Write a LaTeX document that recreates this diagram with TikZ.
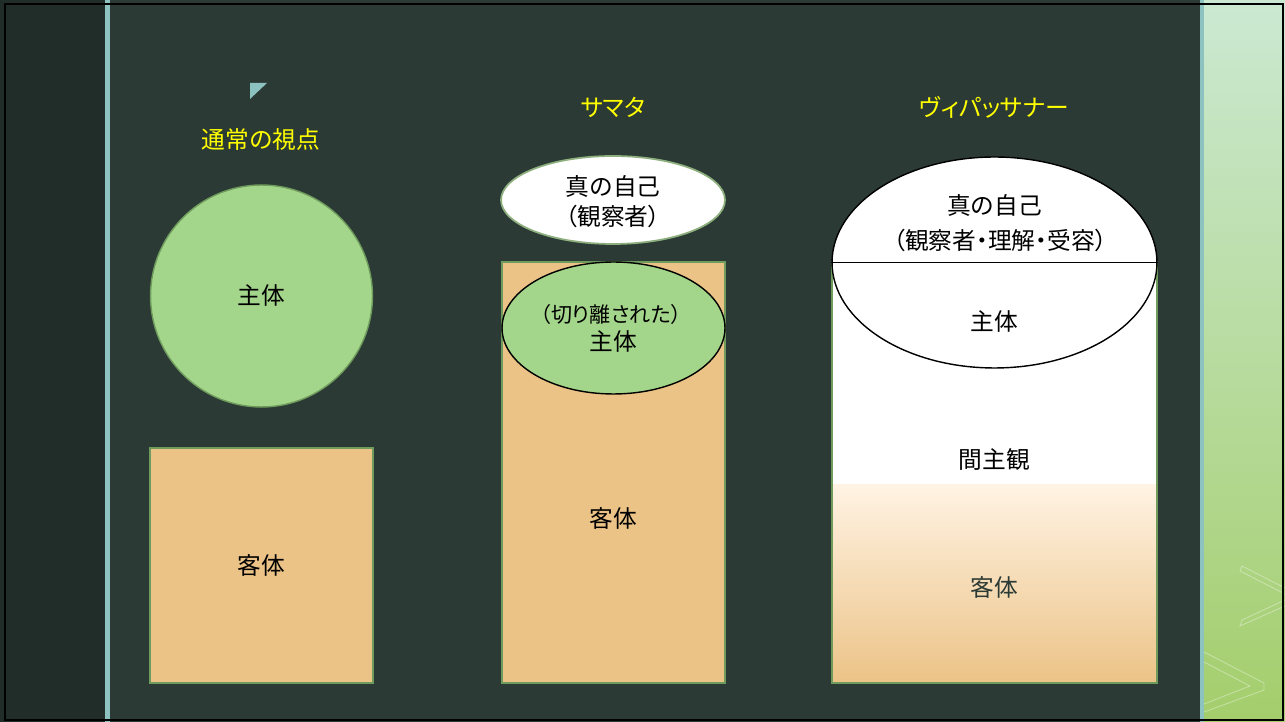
\documentclass[tikz,border=0pt]{standalone}
\usepackage{fontspec}
\setmainfont{Noto Sans CJK JP}
\newfontfamily\paltfont[RawFeature=+palt]{Noto Sans CJK JP}
\usetikzlibrary{shapes.geometric}
\definecolor{darkstrip}{HTML}{212D28}
\definecolor{bgmain}{HTML}{2C3A35}
\definecolor{tealbar}{HTML}{8CC3C0}
\definecolor{greenfill}{HTML}{A3D68B}
\definecolor{greenline}{HTML}{6F9B5C}
\definecolor{orangefill}{HTML}{ECC387}
\definecolor{titleyellow}{HTML}{FFFF00}
\definecolor{striptop}{HTML}{CBE9D2}
\definecolor{stripbot}{HTML}{A4CE6C}
\definecolor{peachtop}{HTML}{FFF3E3}
\tikzset{
  title/.style={text=titleyellow, font=\paltfont\fontsize{13.5}{16}\selectfont},
  lbl/.style={text=black, font=\fontsize{13.5}{16}\selectfont, inner sep=0pt},
  smalllbl/.style={text=black, font=\paltfont\fontsize{12}{14}\selectfont, inner sep=0pt},
  greenbox/.style={draw=greenline, line width=0.8pt, fill=orangefill, inner sep=0pt},
}
\begin{document}
\begin{tikzpicture}[x=0.02cm,y=-0.02cm]
\useasboundingbox (0,0) rectangle (1285,722);
% background
\fill[bgmain] (0,0) rectangle (1285,722);
\fill[darkstrip] (0,0) rectangle (105,722);
\fill[tealbar] (105,0) rectangle (110,722);
\fill[tealbar] (1200,0) rectangle (1204,722);
\shade[top color=striptop, bottom color=stripbot] (1204,0) rectangle (1285,722);
% faint decorations on right strip
\begin{scope}[white, opacity=0.35, line width=0.5pt]
\draw (1285,588) -- (1242,566) -- (1240,571) -- (1285,594);
\draw (1285,600) -- (1242,620) -- (1240,626) -- (1285,606);
\draw (1204,652) -- (1264,683) -- (1264,690) -- (1204,712);
\draw (1204,662) -- (1250,686) -- (1204,704);
\end{scope}
\draw[black, line width=1.2pt] (5,4) rectangle (1283,720);
% marker
\fill[tealbar] (250,83) -- (267,83) -- (250,99) -- cycle;

% titles
\node[title, font=\fontsize{13.5}{16}\selectfont] (t1) at (261,139) {通常の視点};
\node[title] (t2) at (613,107) {サマタ};
\node[title] (t3) at (994,107) {ヴィパッサナー};

% column 1
\node[circle, draw=greenline, line width=0.8pt, fill=greenfill, minimum size=4.44cm, inner sep=0pt] (subj1) at (261.5,296) {};
\node[lbl] at (subj1.center) {主体};
\node[greenbox, minimum width=4.46cm, minimum height=4.7cm] (obj1) at (261.5,565.5) {};
\node[lbl] at (obj1.center) {客体};

% column 2
\node[greenbox, minimum width=4.46cm, minimum height=8.42cm] (obj2) at (613.5,472.5) {};
\node[lbl] at (613.5,518) {客体};
\node[ellipse, draw=black, line width=0.8pt, fill=greenfill, minimum width=4.46cm, minimum height=2.64cm, inner sep=0pt] (subj2) at (613.5,328) {};
\node[smalllbl] at (611,314) {（切り離された）};
\node[lbl] at (613.5,342) {主体};
\node[ellipse, draw=greenline!80!white, line width=1pt, fill=white, minimum width=4.48cm, minimum height=1.76cm, inner sep=0pt] (self2) at (613,200) {};
\node[lbl] at (613,186) {真の自己};
\node[lbl, font=\paltfont\fontsize{13.5}{16}\selectfont] at (613,216) {（観察者）};

% column 3
\coordinate (r1) at (832,262);
\coordinate (r2) at (1157,683);
\fill[white] (832,262) rectangle (1157,485);
\shade[top color=peachtop, bottom color=orangefill] (832,485) rectangle (1157,683);
\draw[greenline, line width=0.8pt] (r1) |- (r2) |- cycle;
\node[ellipse, draw=black, line width=0.8pt, fill=white, minimum width=6.5cm, minimum height=4.22cm, inner sep=0pt] (self3) at (994.5,262.5) {};
\draw[black, line width=0.8pt] (self3.west) -- (self3.east);
\node[lbl] at (994.5,205) {真の自己};
\node[lbl, font=\paltfont\fontsize{13.5}{16}\selectfont] at (1000,240) {（観察者・理解・受容）};
\node[lbl] at (994.5,322) {主体};
\node[lbl] at (994.5,460) {間主観};
\node[lbl, text=bgmain] at (994.5,587) {客体};
\end{tikzpicture}
\end{document}
